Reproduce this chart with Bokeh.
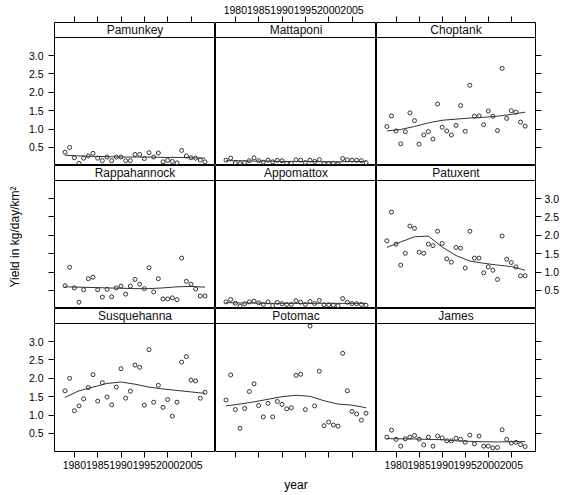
from bokeh.plotting import figure
from bokeh.layouts import gridplot
from bokeh.models import (Range1d, LinearAxis, FixedTicker, PrintfTickFormatter,
                          CustomJSTickFormatter, Span, Label)
from bokeh.embed import file_html
from bokeh.resources import INLINE

# ---------------- data ----------------
YEARS = [1978, 1979, 1980, 1981, 1982, 1983, 1984, 1985, 1986, 1987, 1988,
         1989, 1990, 1991, 1992, 1993, 1994, 1995, 1996, 1997, 1998, 1999,
         2000, 2001, 2002, 2003, 2004, 2005, 2006, 2007, 2008]

SITES = ["Pamunkey", "Mattaponi", "Choptank",
         "Rappahannock", "Appomattox", "Patuxent",
         "Susquehanna", "Potomac", "James"]

pamunkey = [0.37, 0.50, 0.22, 0.07, 0.21, 0.27, 0.34, 0.21, 0.14, 0.24, 0.14,
            0.24, 0.24, 0.14, 0.14, 0.31, 0.31, 0.20, 0.36, 0.24, 0.35, 0.11,
            0.15, 0.12, 0.08, 0.42, 0.27, 0.22, 0.21, 0.16, 0.11]
mattaponi = [0.155, 0.21, 0.08, 0.06, 0.09, 0.14, 0.22, 0.14, 0.10, 0.155, 0.11,
             0.15, 0.14, 0.065, 0.07, 0.165, 0.155, 0.09, 0.155, 0.12, 0.17, 0.065,
             0.065, 0.07, 0.05, 0.20, 0.165, 0.155, 0.15, 0.14, 0.09]
choptank = [1.07, 1.36, 0.95, 0.60, 0.93, 1.44, 1.23, 0.59, 0.84, 0.93, 0.73,
            1.68, 1.05, 0.95, 0.84, 1.10, 1.64, 0.94, 2.19, 1.35, 1.36, 1.12,
            1.49, 1.35, 0.96, 2.65, 1.29, 1.50, 1.46, 1.19, 1.08]
rappahannock = [0.63, 1.13, 0.57, 0.18, 0.52, 0.82, 0.86, 0.52, 0.32, 0.53, 0.33,
                0.57, 0.62, 0.40, 0.62, 0.80, 0.67, 0.55, 1.12, 0.46, 0.82, 0.27,
                0.27, 0.30, 0.25, 1.38, 0.75, 0.67, 0.54, 0.35, 0.35]
appomattox = [0.19, 0.255, 0.155, 0.075, 0.14, 0.19, 0.21, 0.165, 0.12, 0.19, 0.09,
              0.175, 0.14, 0.12, 0.12, 0.22, 0.18, 0.12, 0.20, 0.145, 0.23, 0.11,
              0.11, 0.10, 0.085, 0.28, 0.18, 0.145, 0.14, 0.12, 0.10]
patuxent = [1.85, 2.63, 1.76, 1.19, 1.51, 2.25, 2.19, 1.54, 1.51, 1.76, 1.72,
            2.11, 1.78, 1.36, 1.27, 1.67, 1.65, 1.11, 2.11, 1.38, 1.38, 0.98,
            1.14, 1.05, 0.80, 1.98, 1.35, 1.26, 1.14, 0.90, 0.90]
susquehanna = [1.66, 2.00, 1.12, 1.25, 1.44, 1.75, 2.10, 1.38, 1.88, 1.49, 1.28,
               1.76, 2.26, 1.46, 1.65, 2.36, 2.30, 1.27, 2.78, 1.35, 1.81, 1.21,
               1.42, 0.97, 1.35, 2.44, 2.59, 1.95, 1.93, 1.46, 1.62]
potomac = [1.41, 2.09, 1.15, 0.64, 1.18, 1.64, 1.85, 1.26, 0.95, 1.32, 0.95,
           1.37, 1.29, 1.17, 1.20, 2.08, 2.11, 1.15, 3.42, 1.25, 2.19, 0.71,
           0.81, 0.73, 0.70, 2.68, 1.66, 1.10, 1.03, 0.86, 1.05]
james = [0.40, 0.59, 0.34, 0.155, 0.355, 0.40, 0.445, 0.345, 0.19, 0.40, 0.155,
         0.43, 0.38, 0.30, 0.30, 0.37, 0.34, 0.26, 0.455, 0.22, 0.43, 0.155,
         0.155, 0.11, 0.12, 0.60, 0.34, 0.24, 0.26, 0.20, 0.145]

# smooth (loess) curves
SMOOTH_YEARS = [1978, 1981, 1984, 1987, 1990, 1993, 1996, 1999, 2002, 2005, 2008]
pamunkey_smooth = [0.29, 0.27, 0.26, 0.25, 0.24, 0.24, 0.24, 0.23, 0.23, 0.22, 0.21]
mattaponi_smooth = [0.14, 0.14, 0.13, 0.13, 0.12, 0.12, 0.12, 0.11, 0.11, 0.12, 0.12]
choptank_smooth = [0.95, 0.99, 1.07, 1.17, 1.24, 1.27, 1.30, 1.32, 1.35, 1.40, 1.46]
rappahannock_smooth = [0.60, 0.59, 0.58, 0.57, 0.56, 0.55, 0.55, 0.57, 0.60, 0.61, 0.59]
appomattox_smooth = [0.17, 0.16, 0.16, 0.15, 0.15, 0.15, 0.15, 0.15, 0.15, 0.15, 0.15]
patuxent_smooth = [1.67, 1.82, 1.96, 1.98, 1.68, 1.45, 1.30, 1.24, 1.19, 1.15, 1.05]
susquehanna_smooth = [1.48, 1.66, 1.76, 1.86, 1.90, 1.84, 1.76, 1.71, 1.67, 1.63, 1.59]
potomac_smooth = [1.25, 1.30, 1.36, 1.43, 1.50, 1.54, 1.51, 1.39, 1.30, 1.27, 1.20]
james_smooth = [0.36, 0.355, 0.35, 0.34, 0.33, 0.30, 0.285, 0.275, 0.27, 0.275, 0.28]

SERIES = [pamunkey, mattaponi, choptank, rappahannock, appomattox, patuxent,
          susquehanna, potomac, james]
SMOOTHS = [pamunkey_smooth, mattaponi_smooth, choptank_smooth, rappahannock_smooth,
           appomattox_smooth, patuxent_smooth, susquehanna_smooth, potomac_smooth,
           james_smooth]

X_TICKS = [1980, 1985, 1990, 1995, 2000, 2005]
Y_TICKS = [0.5, 1.0, 1.5, 2.0, 2.5, 3.0]
Y_LABEL = "Yield in kg/day/km\u00b2"
X_LABEL = "year"

# ---------------- layout / style ----------------
FONT = "Liberation Sans"
TICK_FS = "10.5px"
PANEL_W = 161
PLOT_H = 128
STRIP_H = 15
ROW_H = PLOT_H + STRIP_H
LEFT_B = 54
RIGHT_B = 25
TOP_B = 22
BOTTOM_B = 43
X0, X1 = 1975.75, 2010.25
Y0, Y1 = 0.01, 3.49
YSTRIP = Y1 + STRIP_H * (Y1 - Y0) / PLOT_H
PT_COLOR = "#333333"


def style_axis(ax, labeled, ticks, standoff, fmt=None):
    ax.ticker = FixedTicker(ticks=ticks, minor_ticks=[])
    ax.major_tick_out = 6
    ax.major_tick_in = 0
    ax.minor_tick_line_color = None
    ax.axis_line_color = None
    ax.major_tick_line_color = "black"
    ax.major_label_standoff = standoff
    ax.major_label_text_font = FONT
    ax.major_label_text_font_size = TICK_FS
    ax.major_label_text_color = "black"
    ax.axis_label_text_font = FONT
    ax.axis_label_text_font_size = "12px"
    ax.axis_label_text_font_style = "normal"
    ax.axis_label_text_color = "black"
    if labeled:
        if fmt is not None:
            ax.formatter = fmt
    else:
        ax.formatter = CustomJSTickFormatter(code="return ''")


rows = []
for r in range(3):
    row = []
    for c in range(3):
        k = r * 3 + c
        w = PANEL_W + (LEFT_B if c == 0 else 0) + (RIGHT_B if c == 2 else 0)
        h = ROW_H + (TOP_B if r == 0 else 0) + (BOTTOM_B if r == 2 else 0)
        p = figure(width=w, height=h, output_backend="svg", toolbar_location=None,
                   x_axis_location=None, y_axis_location=None,
                   x_range=Range1d(X0, X1), y_range=Range1d(Y0, YSTRIP),
                   min_border=0,
                   min_border_left=LEFT_B if c == 0 else 0,
                   min_border_right=RIGHT_B if c == 2 else 0,
                   min_border_top=TOP_B if r == 0 else 0,
                   min_border_bottom=BOTTOM_B if r == 2 else 0,
                   outline_line_color="black", outline_line_width=1,
                   background_fill_color="white", border_fill_color="white")
        p.xgrid.visible = False
        p.ygrid.visible = False

        # outer axes, lattice style (alternating labels)
        if r == 0:
            ax = LinearAxis()
            style_axis(ax, c == 1, X_TICKS, 3)
            p.add_layout(ax, "above")
        if r == 2:
            ax = LinearAxis()
            style_axis(ax, c != 1, X_TICKS, 3)
            if c == 1:
                ax.axis_label = X_LABEL
                ax.axis_label_standoff = 20
            p.add_layout(ax, "below")
        if c == 0:
            ax = LinearAxis()
            style_axis(ax, r != 1, Y_TICKS, 5, PrintfTickFormatter(format="%.1f"))
            if r == 1:
                ax.axis_label = Y_LABEL
                ax.axis_label_standoff = 27
            p.add_layout(ax, "left")
        if c == 2:
            ax = LinearAxis()
            style_axis(ax, r == 1, Y_TICKS, 3, PrintfTickFormatter(format="%.1f"))
            p.add_layout(ax, "right")

        # strip
        p.add_layout(Span(location=Y1, dimension="width", line_color="black",
                          line_width=1))
        p.add_layout(Label(x=(X0 + X1) / 2, y=(Y1 + YSTRIP) / 2, text=SITES[k],
                           text_align="center", text_baseline="middle",
                           text_font=FONT, text_font_size="12px",
                           text_font_style="normal", text_color="#111111"))

        # data
        p.scatter(YEARS, SERIES[k], marker="circle", size=4, fill_color=None,
                  line_color=PT_COLOR, line_width=1)
        p.line(SMOOTH_YEARS, SMOOTHS[k], line_color=PT_COLOR, line_width=1)
        row.append(p)
    rows.append(row)

grid = gridplot(rows, toolbar_location=None)

open("out.html", "w").write(file_html(grid, INLINE))
